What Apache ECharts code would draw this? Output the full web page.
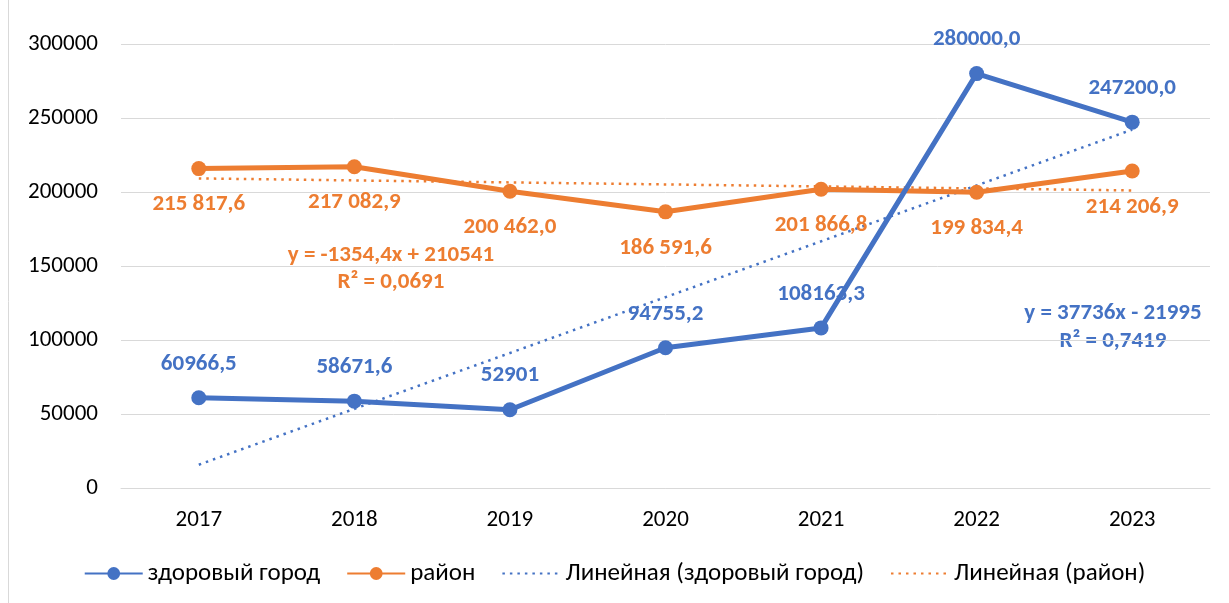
<!DOCTYPE html>
<html><head><meta charset="utf-8">
<script src="https://cdn.jsdelivr.net/npm/echarts@6/dist/echarts.min.js"></script>
<style>html,body{margin:0;padding:0;background:#fff}#c{width:1229px;height:603px}</style>
</head><body><div id="c"></div>
<script>
const categories = ['2017','2018','2019','2020','2021','2022','2023'];
const cityValues = [60966.5, 58671.6, 52901, 94755.2, 108163.3, 280000.0, 247200.0];
const cityLabels = ['60966,5','58671,6','52901','94755,2','108163,3','280000,0','247200,0'];
const districtValues = [215817.6, 217082.9, 200462.0, 186591.6, 201866.8, 199834.4, 214206.9];
const districtLabels = ['215 817,6','217 082,9','200 462,0','186 591,6','201 866,8','199 834,4','214 206,9'];
// trendline endpoints (first and last category)
const cityTrend = [15741, null, null, null, null, null, 242157];
const districtTrend = [209187, null, null, null, null, null, 201060];
const seriesNames = ['здоровый город','район','Линейная (здоровый город)','Линейная (район)'];
const cityEq = ['y = 37736x - 21995','R² = 0,7419'];
const districtEq = ['y = -1354,4x + 210541','R² = 0,0691'];

const BLUE = '#4472C4', ORANGE = '#ED7D31';
const FONT = "Carlito, 'Liberation Sans Narrow', 'Open Sans', sans-serif";
const chart = echarts.init(document.getElementById('c'));
chart.setOption({
  animation: false,
  textStyle: { fontFamily: FONT },
  grid: { left: 121, right: 19, top: 44, bottom: 115 },
  xAxis: {
    type: 'category', data: categories, boundaryGap: true,
    axisLine: { lineStyle: { color: '#d9d9d9' } }, axisTick: { show: false },
    axisLabel: { color: '#000', fontSize: 23, margin: 21, fontFamily: FONT }
  },
  yAxis: {
    type: 'value', min: 0, max: 300000, interval: 50000,
    axisLine: { show: false }, axisTick: { show: false },
    splitLine: { lineStyle: { color: '#d9d9d9', width: 1 } },
    axisLabel: { color: '#000', fontSize: 23, margin: 23, fontFamily: FONT, formatter: v => String(v) }
  },
  legend: {
    bottom: 12, left: 'center', itemWidth: 58, itemHeight: 16, itemGap: 26,
    textStyle: { color: '#000', fontSize: 25, fontFamily: FONT },
    data: seriesNames
  },
  series: [
    { name: seriesNames[0], type: 'line', data: cityValues, z: 4,
      symbol: 'circle', symbolSize: 15, lineStyle: { color: BLUE, width: 5 }, itemStyle: { color: BLUE },
      label: { show: true, position: 'top', distance: 15, color: BLUE, fontSize: 23, fontWeight: 'bold', fontFamily: FONT,
        formatter: p => cityLabels[p.dataIndex] } },
    { name: seriesNames[1], type: 'line', data: districtValues, z: 3,
      symbol: 'circle', symbolSize: 15, lineStyle: { color: ORANGE, width: 5 }, itemStyle: { color: ORANGE },
      label: { show: true, position: 'bottom', distance: 17, color: ORANGE, fontSize: 23, fontWeight: 'bold', fontFamily: FONT,
        formatter: p => districtLabels[p.dataIndex] } },
    { name: seriesNames[2], type: 'line', data: cityTrend, connectNulls: true, symbol: 'none', z: 2,
      lineStyle: { color: BLUE, width: 2.5, type: [2.5, 5] }, itemStyle: { color: 'transparent', borderColor: 'transparent' } },
    { name: seriesNames[3], type: 'line', data: districtTrend, connectNulls: true, symbol: 'none', z: 2,
      lineStyle: { color: ORANGE, width: 2.5, type: [2.5, 5] }, itemStyle: { color: 'transparent', borderColor: 'transparent' } }
  ],
  graphic: [
    { type: 'line', shape: { x1: 8.5, y1: 0, x2: 8.5, y2: 603 }, style: { stroke: '#d9d9d9', lineWidth: 1 } },
    { type: 'text', x: 391, y: 242, style: { text: districtEq[0] + '\n' + districtEq[1], fill: ORANGE,
      font: "bold 23px " + FONT, align: 'center', lineHeight: 27 } },
    { type: 'text', x: 1113, y: 299, style: { text: cityEq[0] + '\n' + cityEq[1], fill: BLUE,
      font: "bold 23px " + FONT, align: 'center', lineHeight: 28 } }
  ]
});
</script></body></html>
